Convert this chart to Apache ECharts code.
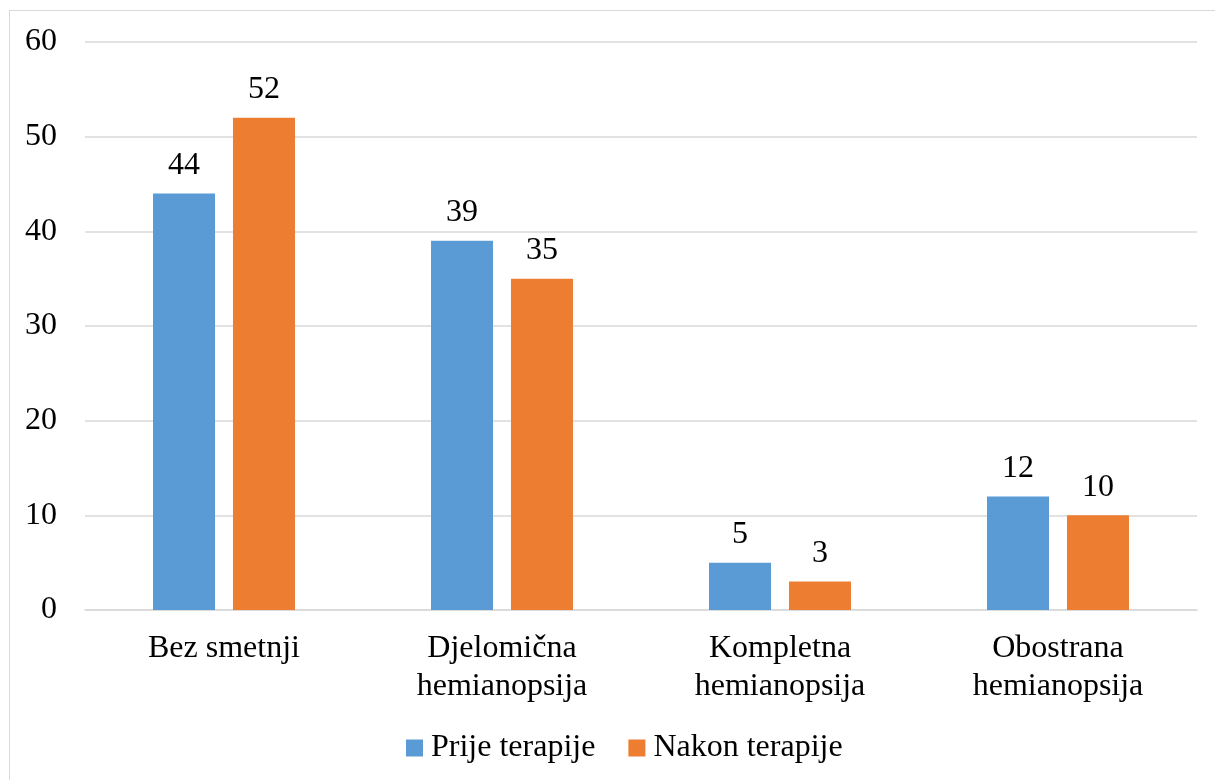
<!DOCTYPE html>
<html>
<head>
<meta charset="utf-8">
<script src="https://cdn.jsdelivr.net/npm/echarts@6/dist/echarts.min.js"></script>
<style>
  html, body { margin: 0; padding: 0; background: #fff; }
  #frame { position: absolute; left: 9px; top: 10px; width: 1220px; height: 790px; border: 1px solid #d9d9d9; box-sizing: border-box; }
  #chart { position: absolute; left: 0; top: 0; width: 1215px; height: 780px; }
</style>
</head>
<body>
<div id="frame"></div>
<div id="chart"></div>
<script>
const categories = ['Bez smetnji', 'Djelomična\nhemianopsija', 'Kompletna\nhemianopsija', 'Obostrana\nhemianopsija']
const prije = [44, 39, 5, 12]
const nakon = [52, 35, 3, 10]
const yTicks = { min: 0, max: 60, interval: 10 }

const font = '"Liberation Serif", "Times New Roman", serif'
const fs = 32
const chart = echarts.init(document.getElementById('chart'))

chart.setOption({
  textStyle: { fontFamily: font },
  legend: {
    top: 727,
    left: 401,
    itemWidth: 17,
    itemHeight: 17,
    itemGap: 33,
    icon: 'rect',
    textStyle: { fontFamily: font, fontSize: fs, color: '#000', padding: [0, 0, 0, 3] },
    data: ['Prije terapije', 'Nakon terapije']
  },
  grid: { left: 85, right: 18, top: 42, bottom: 170, containLabel: false },
  xAxis: {
    type: 'category',
    data: categories,
    axisLine: { lineStyle: { color: '#d9d9d9', width: 1.5 } },
    axisTick: { show: false },
    axisLabel: { fontFamily: font, fontSize: fs, color: '#000', margin: 20, lineHeight: 38 }
  },
  yAxis: {
    type: 'value',
    min: yTicks.min,
    max: yTicks.max,
    interval: yTicks.interval,
    axisLine: { show: false },
    axisTick: { show: false },
    splitLine: { lineStyle: { color: '#d9d9d9', width: 1.5 } },
    axisLabel: { fontFamily: font, fontSize: fs, color: '#000', margin: 28 }
  },
  series: [
    {
      name: 'Prije terapije',
      type: 'bar',
      data: prije,
      barWidth: 62,
      barGap: '29%',
      itemStyle: { color: '#5b9bd5' },
      label: { show: true, position: 'top', distance: 12, fontFamily: font, fontSize: fs, color: '#000' }
    },
    {
      name: 'Nakon terapije',
      type: 'bar',
      data: nakon,
      barWidth: 62,
      itemStyle: { color: '#ed7d31' },
      label: { show: true, position: 'top', distance: 12, fontFamily: font, fontSize: fs, color: '#000' }
    }
  ]
})
</script>
</body>
</html>
